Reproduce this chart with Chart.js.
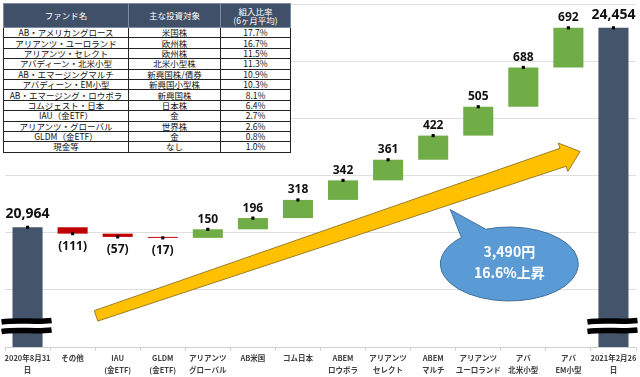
<!DOCTYPE html>
<html>
<head>
<meta charset="utf-8">
<script src="https://cdn.jsdelivr.net/npm/chart.js@4.4.1/dist/chart.umd.min.js"></script>
<style>
  body { margin: 0; background: #fff; }
  #wrap { position: relative; width: 640px; height: 377px; }
  #fundTable {
    position: absolute; left: 3px; top: 3px; width: 287px;
    border-collapse: collapse; table-layout: fixed; background: #fff;
    font-family: 'Noto Sans CJK JP', sans-serif; font-size: 8.5px; color: #111;
  }
  #fundTable th {
    background: #3f5068; color: #fff; font-weight: normal; height: 23px;
    line-height: 9px; padding: 0; border: 1px solid #7d8aa0;
  }
  #fundTable td {
    height: 9.4px; line-height: 9px; padding: 0; border: 1px solid #222;
    text-align: center; white-space: nowrap; overflow: hidden;
  }
</style>
</head>
<body>
<div id="wrap">
  <canvas id="waterfall" width="640" height="377"></canvas>
  <table id="fundTable">
    <colgroup><col style="width:125px"><col style="width:92px"><col style="width:70px"></colgroup>
    <thead><tr><th>ファンド名</th><th>主な投資対象</th><th>組入比率<br>(6ヶ月平均)</th></tr></thead>
    <tbody></tbody>
  </table>
</div>
<script>
// 基準価額の変化（円）
const categories = [
  ['2020年8月31', '日'], 'その他', ['IAU', '(金ETF)'], ['GLDM', '(金ETF)'],
  ['アリアンツ', 'グローバル'], 'AB米国', 'コム日本', ['ABEM', 'ロウボラ'],
  ['アリアンツ', 'セレクト'], ['ABEM', 'マルチ'], ['アリアンツ', 'ユーロランド'],
  ['アバ', '北米小型'], ['アバ', 'EM小型'], ['2021年2月26', '日']
];
const startValue = 20964;
const endValue = 24454;
const changes = [-111, -57, -17, 150, 196, 318, 342, 361, 422, 505, 688, 692];

// 組入ファンド一覧
const fundNames = ['AB・アメリカングロース', 'アリアンツ・ユーロランド', 'アリアンツ・セレクト', 'アバディーン・北米小型',
  'AB・エマージングマルチ', 'アバディーン・EM小型', 'AB・エマージング・ロウボラ', 'コムジェスト・日本',
  'IAU（金ETF）', 'アリアンツ・グローバル', 'GLDM（金ETF）', '現金等'];
const investTargets = ['米国株', '欧州株', '欧州株', '北米小型株', '新興国株/債券', '新興国小型株',
  '新興国株', '日本株', '金', '世界株', '金', 'なし'];
const ratios = ['17.7%', '16.7%', '11.5%', '11.3%', '10.9%', '10.3%', '8.1%', '6.4%', '2.7%', '2.6%', '0.8%', '1.0%'];

const calloutLines = ['3,490円', '16.6%上昇'];

// table
const tbody = document.querySelector('#fundTable tbody');
fundNames.forEach((name, i) => {
  const tr = document.createElement('tr');
  [name, investTargets[i], ratios[i]].forEach(t => {
    const td = document.createElement('td');
    td.textContent = t;
    tr.appendChild(td);
  });
  tbody.appendChild(tr);
});

// floating bars for the waterfall
const bars = [[0, startValue]];
const ends = [startValue];
const labels = [startValue];
let run = startValue;
changes.forEach(c => {
  bars.push([run, run + c]);
  run += c;
  ends.push(run);
  labels.push(c);
});
bars.push([0, endValue]);
ends.push(endValue);
labels.push(endValue);

const lastIdx = categories.length - 1;
const colors = labels.map((v, i) => (i === 0 || i === lastIdx) ? '#44546a' : (v < 0 ? '#c00000' : '#70ad47'));

const FONT = "'Noto Sans', 'Noto Sans CJK JP', sans-serif";

const overlay = {
  id: 'overlay',
  afterDatasetsDraw(chart) {
    const { ctx, chartArea } = chart;
    const meta = chart.getDatasetMeta(1);
    ctx.save();
    // break marks on the two total bars
    [0, lastIdx].forEach(i => {
      const bar = meta.data[i];
      const l = bar.x - bar.width / 2 - 11;
      const r = bar.x + bar.width / 2 + 9;
      const b = chartArea.bottom;
      ctx.fillStyle = '#fff';
      ctx.fillRect(l, b - 26, r - l, 10);
      ctx.strokeStyle = '#000';
      ctx.lineWidth = 5.5;
      [b - 26, b - 16.5].forEach(yy => {
        ctx.beginPath();
        ctx.moveTo(l, yy + 1);
        ctx.bezierCurveTo(l + (r - l) / 3, yy - 1.5, l + 2 * (r - l) / 3, yy + 1.5, r, yy - 0.5);
        ctx.stroke();
      });
    });
    // value labels
    const yScale = chart.scales.y;
    ctx.fillStyle = '#111';
    ctx.textAlign = 'center';
    ctx.textBaseline = 'middle';
    labels.forEach((v, i) => {
      const x = meta.data[i].x;
      const py = yScale.getPixelForValue(ends[i]);
      if (i === 0 || i === lastIdx) {
        ctx.font = 'bold 14px ' + FONT;
        ctx.fillText(v.toLocaleString('en-US'), x, py - 13);
      } else if (v < 0) {
        ctx.font = 'bold 12px ' + FONT;
        ctx.fillText('(' + Math.abs(v) + ')', x, py + 13);
      } else {
        ctx.font = 'bold 12px ' + FONT;
        ctx.fillText(String(v), x, py - 10);
      }
    });
    ctx.restore();
  },
  afterDraw(chart) {
    const { ctx, scales: { x, y } } = chart;
    ctx.save();
    // yellow trend arrow
    const x0 = x.getPixelForValue(1.52), y0 = y.getPixelForValue(19415);
    const x1 = x.getPixelForValue(12.26), y1 = y.getPixelForValue(22290);
    const len = Math.hypot(x1 - x0, y1 - y0);
    const ux = (x1 - x0) / len, uy = (y1 - y0) / len;
    const nx = -uy, ny = ux;
    const headLen = 18, tailW = 5.5, neckW = 9.5, headW = 15;
    const bx = x1 - ux * headLen, by = y1 - uy * headLen;
    ctx.beginPath();
    ctx.moveTo(x0 + nx * tailW, y0 + ny * tailW);
    ctx.lineTo(bx + nx * neckW, by + ny * neckW);
    ctx.lineTo(bx + nx * headW, by + ny * headW);
    ctx.lineTo(x1, y1);
    ctx.lineTo(bx - nx * headW, by - ny * headW);
    ctx.lineTo(bx - nx * neckW, by - ny * neckW);
    ctx.lineTo(x0 - nx * tailW, y0 - ny * tailW);
    ctx.closePath();
    ctx.fillStyle = '#ffc000';
    ctx.fill();
    ctx.strokeStyle = '#9c7d27';
    ctx.lineWidth = 1;
    ctx.stroke();

    // speech bubble
    const cx = x.getPixelForValue(10.69), cy = y.getPixelForValue(20322);
    const rx = 69, ry = 37;
    const tipX = x.getPixelForValue(9.38), tipY = y.getPixelForValue(21273);
    const a1 = -110 * Math.PI / 180, a2 = (360 - 134) * Math.PI / 180;
    ctx.beginPath();
    ctx.ellipse(cx, cy, rx, ry, 0, a1, a2);
    ctx.lineTo(tipX, tipY);
    ctx.closePath();
    ctx.fillStyle = '#5b9bd5';
    ctx.fill();
    ctx.strokeStyle = '#41719c';
    ctx.stroke();
    ctx.fillStyle = '#fff';
    ctx.textAlign = 'center';
    ctx.textBaseline = 'middle';
    ctx.font = "bold 14px 'Noto Sans CJK JP', sans-serif";
    ctx.fillText(calloutLines[0], cx, cy - 12);
    ctx.fillText(calloutLines[1], cx, cy + 9);
    ctx.restore();
  }
};

new Chart(document.getElementById('waterfall'), {
  type: 'bar',
  data: {
    labels: categories,
    datasets: [
      {
        type: 'line',
        data: ends,
        showLine: false,
        pointStyle: 'rect',
        pointRadius: 2.2,
        pointBackgroundColor: '#000',
        pointBorderWidth: 0,
        order: 0
      },
      {
        data: bars,
        backgroundColor: colors,
        categoryPercentage: 1,
        barPercentage: 0.667,
        order: 1
      }
    ]
  },
  options: {
    responsive: false,
    animation: false,
    layout: { padding: { left: 5, right: 4, top: 2, bottom: 0 } },
    plugins: { legend: { display: false }, tooltip: { enabled: false } },
    scales: {
      x: {
        grid: { drawOnChartArea: false, tickLength: 4, color: '#d0d0d0' },
        border: { color: '#d0d0d0' },
        ticks: {
          maxRotation: 0, autoSkip: false, padding: 1, color: '#404040',
          font: { family: "'Noto Sans CJK JP', sans-serif", size: 7.5, weight: 'bold', lineHeight: 1.6 }
        }
      },
      y: {
        min: 18870, max: 24870,
        ticks: { display: false, stepSize: 1000 },
        grid: { color: '#dedede', drawTicks: false },
        border: { display: false }
      }
    }
  },
  plugins: [overlay]
});
</script>
</body>
</html>
